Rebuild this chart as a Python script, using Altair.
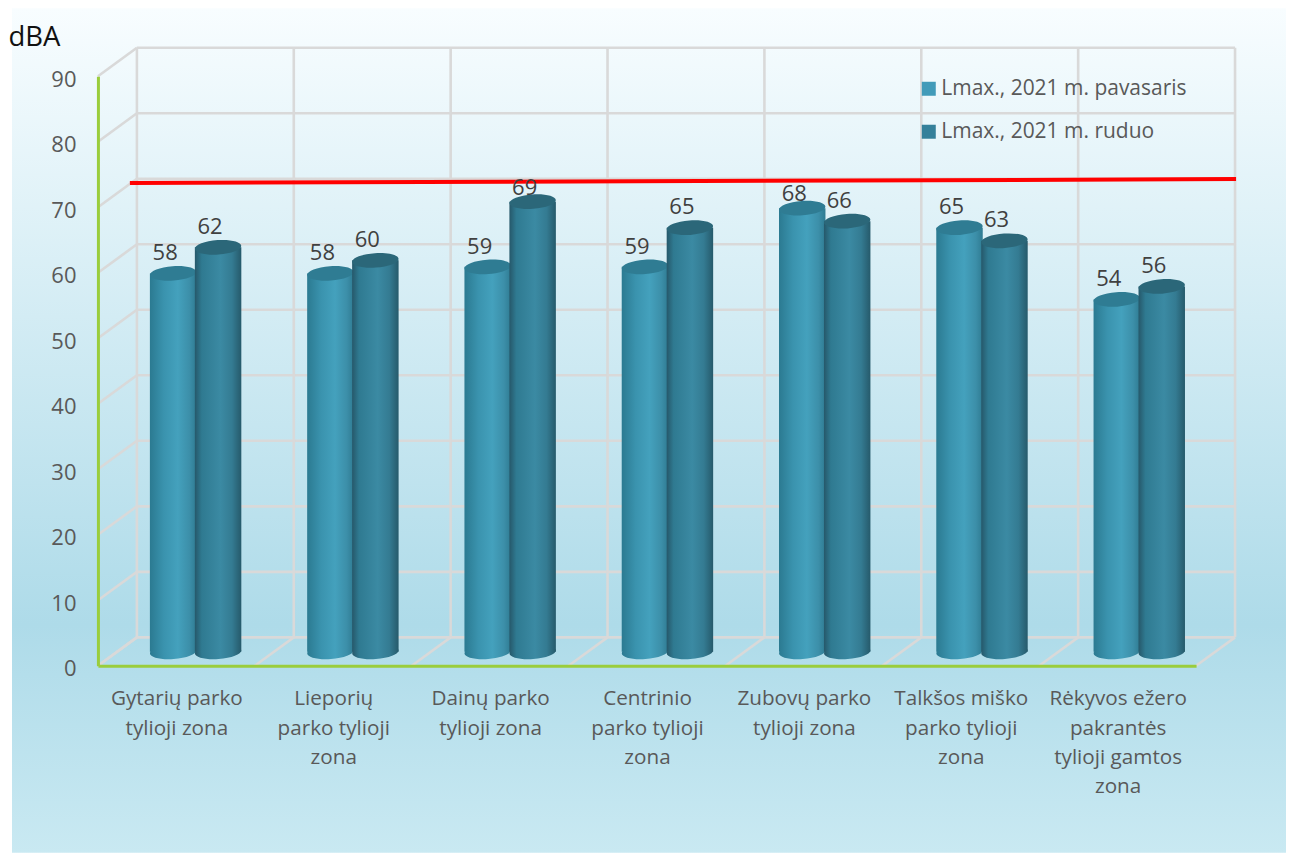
import json
import altair as alt
import pandas as pd

# ---- chart values ----
categories = [
    "Gytarių parko|tylioji zona",
    "Lieporių|parko tylioji|zona",
    "Dainų parko|tylioji zona",
    "Centrinio|parko tylioji|zona",
    "Zubovų parko|tylioji zona",
    "Talkšos miško|parko tylioji|zona",
    "Rėkyvos ežero|pakrantės|tylioji gamtos|zona",
]
spring = [58, 58, 59, 59, 68, 65, 54]
autumn = [62, 60, 69, 65, 66, 63, 56]
series_names = ["Lmax., 2021 m. pavasaris", "Lmax., 2021 m. ruduo"]
limit_line = [73.7, 74.3]
ticks = list(range(0, 100, 10))

# ---- layout: the plot area is the front plane of the 3D box ----
W, H = 1099, 590
PX_U = W / 7
PX_V = H / 90
DEPTH_U = 39 / PX_U
DEPTH_V = 28.5 / PX_V
FONT = "Open Sans"
X_DOM = alt.Scale(domain=[0, 7], nice=False, zero=False)
Y_DOM = alt.Scale(domain=[0, 90], nice=False, zero=False)
GREEN = "#9acd3c"
label_expr = "split(" + json.dumps(categories, ensure_ascii=False) + "[floor(datum.value)], '|')"
X_AXIS = alt.Axis(
    values=[i + 0.5 for i in range(7)], labelExpr=label_expr, title=None, grid=False, ticks=False,
    domainColor=GREEN, domainWidth=3, labelColor="#595959", labelFont=FONT, labelFontSize=20.7,
    labelPadding=23, labelLineHeight=29.3, labelAngle=0, labelOverlap=False, labelFlush=False,
    labelBound=False, labelBaseline="top", zindex=1)
Y_AXIS = alt.Axis(
    values=ticks, grid=False, ticks=False, domainColor=GREEN, domainWidth=3,
    labelColor="#595959", labelFont=FONT, labelFontSize=22, labelPadding=22, labelOffset=3,
    title="dBA", titleX=-90, titleY=-39, titleAngle=0, titleAlign="left", titleBaseline="middle",
    titleFont=FONT, titleFontSize=27.5, titleFontWeight="normal", titleColor="#111111", zindex=1)


def X(field):
    return alt.X(field, type="quantitative", scale=X_DOM, axis=X_AXIS)


def Y(field):
    return alt.Y(field, type="quantitative", scale=Y_DOM, axis=Y_AXIS)


def project(v):
    """Bars stand mid-way in the depth of the box."""
    return 2.14 + 0.996 * v


def linear(stops, horizontal=True):
    return alt.LinearGradient(
        gradient="linear", x1=0, y1=0, x2=1 if horizontal else 0, y2=0 if horizontal else 1,
        stops=[alt.GradientStop(offset=o, color=c) for c, o in stops])


BAR_PX = 46.5
BAR_W = BAR_PX / PX_U
STEP = 157.4 / PX_U
OFFSETS = [52 / PX_U, 97 / PX_U]
rows = []
for s, (name, vals) in enumerate(zip(series_names, [spring, autumn])):
    for i, v in enumerate(vals):
        x0 = i * STEP + OFFSETS[s]
        top = project(v)
        lab = min(top + 3.1, 72.9) - (0.9 if v == 68 else 0)
        rows.append(dict(series=name, s=s, value=v, x0=x0, x1=x0 + BAR_W, xc=x0 + BAR_W / 2,
                         base=project(0), top=top, label_v=lab,
                         label_x=x0 + BAR_W / 2 - 8 / PX_U))
bars = pd.DataFrame(rows)

# grid lines of the walls and floor
seg = []
n = 0
def add(x0, y0, x1, y1):
    global n
    seg.extend([dict(id=n, u=x0, v=y0), dict(id=n, u=x1, v=y1)])
    n += 1
for t in ticks:
    add(DEPTH_U, t + DEPTH_V, 7 + DEPTH_U, t + DEPTH_V)
    add(0, t, DEPTH_U, t + DEPTH_V)
for c in range(8):
    add(c + DEPTH_U, DEPTH_V, c + DEPTH_U, 90 + DEPTH_V)
    add(c, 0, c + DEPTH_U, DEPTH_V)
grid_df = pd.DataFrame(seg)

# the page's content box ends at x = 1287; anything wider would be shrunk to fit
bg_df = pd.DataFrame([dict(x0=(12 - 98) / PX_U, x1=(1287 - 98) / PX_U,
                           y0=(666 - 853) / PX_V, y1=(666 - 8) / PX_V)])

bg = alt.Chart(bg_df).mark_rect(
    color=linear([("#f8fdff", 0), ("#aedbe9", 0.73), ("#c9e9f2", 1)], horizontal=False)
).encode(x=X("x0"), x2="x1:Q", y=Y("y0"), y2="y1:Q")

grid = alt.Chart(grid_df).mark_line(color="#d9d9d9", strokeWidth=2.6).encode(
    x=X("u"), y=Y("v"), detail="id:N")

swatches = alt.Chart(bars).mark_bar(opacity=0).encode(
    x=X("x0"),
    x2="x1:Q",
    y=Y("base"),
    y2="top:Q",
    color=alt.Color("series:N", scale=alt.Scale(domain=series_names, range=["#429bb9", "#35809a"]),
                    legend=alt.Legend(
                        orient="none", legendX=821, legendY=2, title=None, symbolType="square",
                        symbolSize=196, symbolOpacity=1, symbolStrokeWidth=0, labelFont=FONT, labelFontSize=21,
                        labelColor="#595959", rowPadding=21, labelOffset=2, labelLimit=400)),
)

side = [
    [("#2b7a91", 0), ("#3a93ae", 0.3), ("#44a1bd", 0.6), ("#3c8fa9", 0.85), ("#2f7b92", 1)],
    [("#26586a", 0), ("#2f7a91", 0.15), ("#3b8aa3", 0.55), ("#347b92", 0.8), ("#265a6b", 1)],
]
lids = ["#2f7c93", "#2b6779"]
ELLIPSE = "M-1,0 A1,0.31 0 1,1 1,0 A1,0.31 0 1,1 -1,0 Z"

layers = [bg, grid, swatches]
for s in (0, 1):
    d = bars[bars.s == s]
    g = linear(side[s])
    foot = alt.Chart(d).mark_point(shape=ELLIPSE, filled=True, size=BAR_PX ** 2, opacity=1, angle=356, color=g).encode(
        x=X("xc"), y=Y("base"))
    body = alt.Chart(d).mark_bar(color=g).encode(
        x=X("x0"), x2="x1:Q", y=Y("base"), y2="top:Q")
    lid = alt.Chart(d).mark_point(shape=ELLIPSE, filled=True, size=BAR_PX ** 2, opacity=1, angle=356, color=lids[s]).encode(
        x=X("xc"), y=Y("top"))
    layers += [foot, body, lid]

labels = alt.Chart(bars).mark_text(font=FONT, fontSize=22, color="#404040", baseline="middle").encode(
    x=X("label_x"), y=Y("label_v"), text="value:Q")

limit_df = pd.DataFrame(dict(u=[(130 - 98) / PX_U, (1237 - 98) / PX_U], v=limit_line))
limit = alt.Chart(limit_df).mark_line(color="#ff0000", strokeWidth=4).encode(x=X("u"), y=Y("v"))
layers += [limit, labels]

chart = alt.layer(*layers).properties(
    width=W, height=H, padding=0, background="#ffffff"
).configure_view(stroke=None)

chart.save("out.html", embed_options={"renderer": "svg", "actions": False})
